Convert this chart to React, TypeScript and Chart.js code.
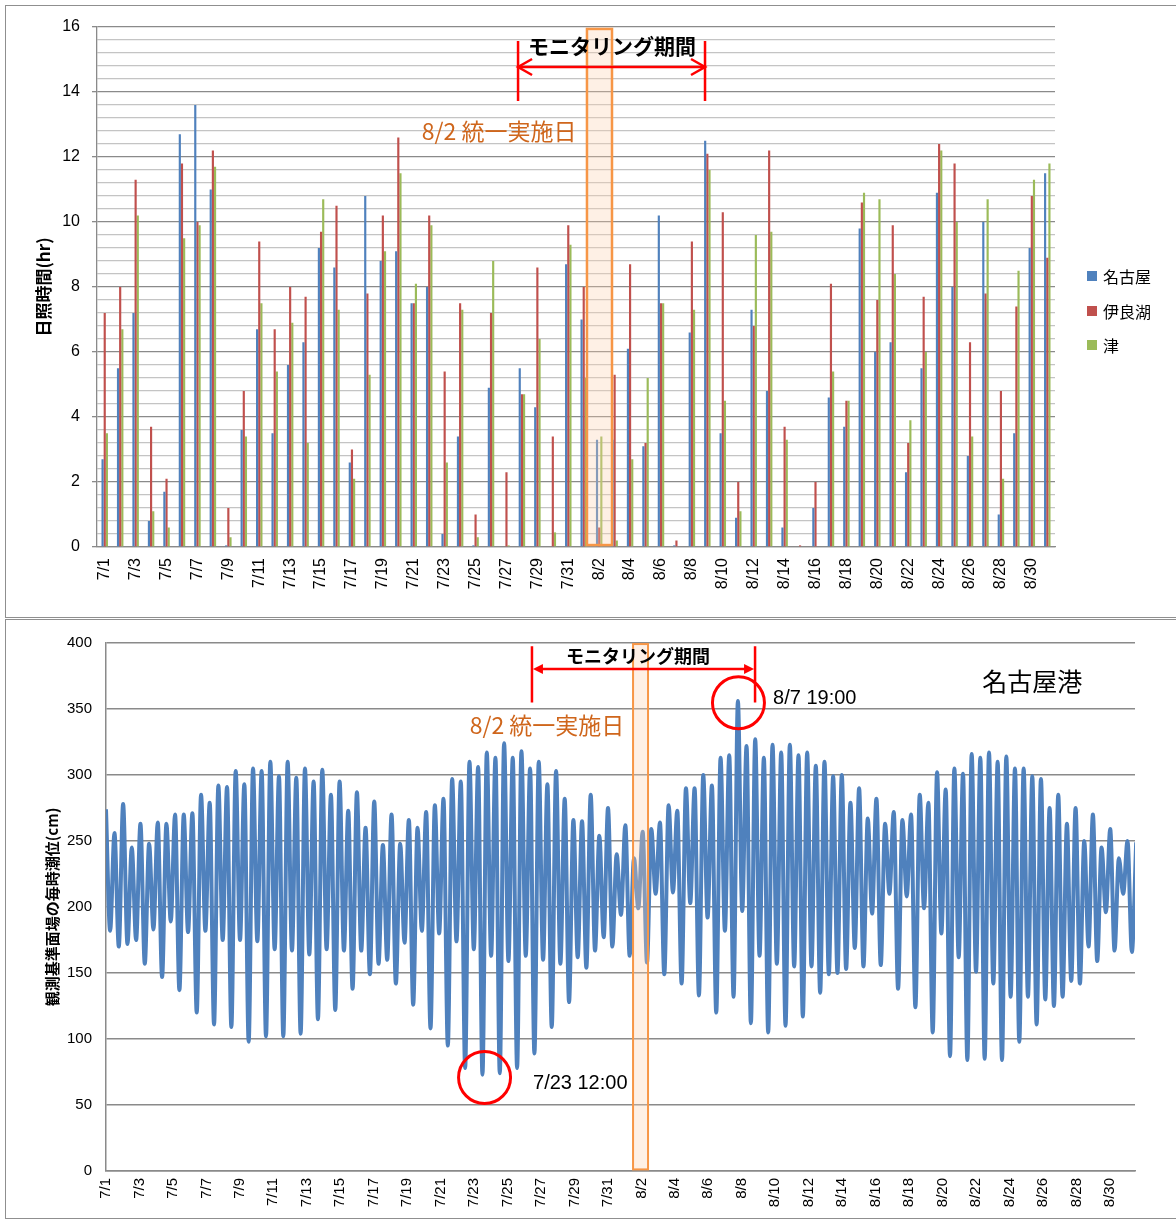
import React, { useEffect, useRef } from "react";
import { Chart, registerables } from "chart.js";

Chart.register(...registerables);

// ---------- categories ----------
const dayLabels = [
  "7/1", "7/2", "7/3", "7/4", "7/5", "7/6", "7/7", "7/8", "7/9", "7/10",
  "7/11", "7/12", "7/13", "7/14", "7/15", "7/16", "7/17", "7/18", "7/19", "7/20",
  "7/21", "7/22", "7/23", "7/24", "7/25", "7/26", "7/27", "7/28", "7/29", "7/30",
  "7/31", "8/1", "8/2", "8/3", "8/4", "8/5", "8/6", "8/7", "8/8", "8/9",
  "8/10", "8/11", "8/12", "8/13", "8/14", "8/15", "8/16", "8/17", "8/18", "8/19",
  "8/20", "8/21", "8/22", "8/23", "8/24", "8/25", "8/26", "8/27", "8/28", "8/29",
  "8/30", "8/31",
];

// ---------- sunshine hours (hr) ----------
const seriesNames = ["名古屋", "伊良湖", "津"];
const sunNagoya = [
  2.7, 5.5, 7.2, 0.8, 1.7, 12.7, 13.6, 11.0, 0.05, 3.6,
  6.7, 3.5, 5.6, 6.3, 9.2, 8.6, 2.6, 10.8, 8.8, 9.1,
  7.5, 8.0, 0.4, 3.4, 0.05, 4.9, 0, 5.5, 4.3, 0,
  8.7, 7.0, 3.3, 3.3, 6.1, 3.1, 10.2, 0.05, 6.6, 12.5,
  3.5, 0.9, 7.3, 4.8, 0.6, 0, 1.2, 4.6, 3.7, 9.8,
  6.0, 6.3, 2.3, 5.5, 10.9, 8.0, 2.8, 10.0, 1.0, 3.5,
  9.2, 11.5,
];
const sunIrago = [
  7.2, 8.0, 11.3, 3.7, 2.1, 11.8, 10.0, 12.2, 1.2, 4.8,
  9.4, 6.7, 8.0, 7.7, 9.7, 10.5, 3.0, 7.8, 10.2, 12.6,
  7.5, 10.2, 5.4, 7.5, 1.0, 7.2, 2.3, 4.7, 8.6, 3.4,
  9.9, 8.0, 0.6, 5.3, 8.7, 3.2, 7.5, 0.2, 9.4, 12.1,
  10.3, 2.0, 6.8, 12.2, 3.7, 0.05, 2.0, 8.1, 4.5, 10.6,
  7.6, 9.9, 3.2, 7.7, 12.4, 11.8, 6.3, 7.8, 4.8, 7.4,
  10.8, 8.9,
];
const sunTsu = [
  3.5, 6.7, 10.2, 1.1, 0.6, 9.5, 9.9, 11.7, 0.3, 3.4,
  7.5, 5.4, 6.9, 3.2, 10.7, 7.3, 2.1, 5.3, 9.1, 11.5,
  8.1, 9.9, 2.6, 7.3, 0.3, 8.8, 0.05, 4.7, 6.4, 0.45,
  9.3, 5.2, 3.4, 0.2, 2.7, 5.2, 7.5, 0, 7.3, 11.6,
  4.5, 1.1, 9.6, 9.7, 3.3, 0, 0, 5.4, 4.5, 10.9,
  10.7, 8.4, 3.9, 6.0, 12.2, 10.0, 3.4, 10.7, 2.1, 8.5,
  11.3, 11.8,
];
const sunMajorTicks = [0, 2, 4, 6, 8, 10, 12, 14, 16];

// ---------- hourly tide at Nagoya port (cm), successive high / low waters ----------
const tideStartValue = 274; // 7/1 0:00
const tideExtremes = [
  // 7/1 - 7/8
  182, 256, 170, 278, 172, 245, 175, 263, 157, 248, 183, 264, 147, 263, 189, 270,
  137, 270, 181, 271, 120, 285, 182, 279, 111, 292, 175, 291, 109, 303, 175, 293,
  // 7/9 - 7/16
  98, 305, 174, 303, 102, 310, 168, 299, 102, 310, 167, 298, 104, 305, 164, 295,
  115, 304, 168, 285, 122, 295, 167, 273, 138, 287, 167, 260, 149, 280, 157, 247,
  // 7/17 - 7/24
  160, 270, 142, 248, 173, 266, 126, 260, 182, 272, 108, 277, 180, 282, 95, 297,
  174, 295, 78, 310, 168, 306, 73, 317, 163, 313, 74, 324, 159, 313, 78, 318,
  // 7/25 - 8/1
  163, 305, 89, 310, 160, 293, 109, 303, 157, 282, 128, 266, 162, 265, 154, 285,
  167, 254, 177, 275, 170, 240, 194, 262, 163, 237, 199, 257, 158, 259, 210, 264,
  // 8/2 - 8/9
  149, 277, 211, 273, 142, 290, 203, 290, 133, 300, 192, 292, 120, 313, 182, 315,
  132, 356, 197, 322, 112, 327, 163, 313, 105, 323, 157, 317, 110, 323, 155, 315,
  // 8/10 - 8/17
  117, 317, 155, 307, 135, 310, 149, 299, 150, 300, 153, 279, 169, 290, 155, 267,
  195, 282, 156, 263, 210, 272, 138, 266, 208, 270, 124, 285, 199, 279, 105, 302,
  // 8/18 - 8/31
  180, 289, 87, 305, 162, 301, 84, 316, 151, 313, 85, 317, 142, 310, 84, 314,
  132, 305, 98, 305, 132, 299, 111, 297, 130, 275, 125, 285, 132, 263, 144, 275,
  142, 250, 170, 270, 159, 245, 196, 259, 167, 237, 210, 250, 166, 249,
];
const tideFirstExtremeHour = 5.94;
const tideHalfPeriodHours = 6.21; // semidiurnal high/low spacing
const tideTickDays = [0, 2, 4, 6, 8, 10, 12, 14, 16, 18, 20, 22, 24, 26, 28, 30,
  32, 34, 36, 38, 40, 42, 44, 46, 48, 50, 52, 54, 56, 58, 60];
const tideYTicks = [0, 50, 100, 150, 200, 250, 300, 350, 400];

// ---------- styles ----------
const NUM_FONT = "'Liberation Sans', 'Noto Sans CJK JP', sans-serif";
const JP_FONT = "'Noto Sans CJK JP', 'Liberation Sans', sans-serif";
const COLORS = ["#4F81BD", "#C0504D", "#9BBB59"];
const GRID_MAJOR = "#8A8A8A";
const GRID_MINOR = "#C4C4C4";
const RED = "#FF0000";
const ORANGE_LINE = "#F79646";
const ORANGE_TEXT = "#CF661C";

Chart.defaults.font.family = NUM_FONT;

const isMajorSun = (v: number) => sunMajorTicks.some((t) => Math.abs(t - v) < 1e-6);

function drawOpenHead(ctx: CanvasRenderingContext2D, x: number, y: number, dir: number) {
  ctx.beginPath();
  ctx.moveTo(x + dir * 14, y - 8);
  ctx.lineTo(x, y);
  ctx.lineTo(x + dir * 14, y + 8);
  ctx.stroke();
}
function drawFilledHead(ctx: CanvasRenderingContext2D, x: number, y: number, dir: number) {
  ctx.beginPath();
  ctx.moveTo(x, y);
  ctx.lineTo(x + dir * 10, y - 5);
  ctx.lineTo(x + dir * 10, y + 5);
  ctx.closePath();
  ctx.fill();
}

// annotation positions in data units (category index / value)
const topAnno = {
  boxFrom: 31.21, boxTo: 32.83, boxTop: 15.94, boxBottom: 0.06,
  arrowFrom: 26.75, arrowTo: 38.85, arrowY: 14.77, barTop: 15.57, barBottom: 13.72,
  periodX: 32.83, periodY: 15.42,
  dayX: 25.52, dayY: 12.8,
};
const botAnno = {
  boxFrom: 756, boxTo: 777.5, boxTop: 399.2, boxBottom: 1.2,
  arrowFrom: 611, arrowTo: 931, arrowY: 380.3, barTop: 397.6, barBottom: 355,
  periodX: 763, periodY: 390.4,
  dayX: 632.6, dayY: 338,
  peakX: 907.2, peakY: 354.7, lowX: 543, lowY: 70.8,
  peakTextX: 956.8, peakTextY: 357.7, lowTextX: 612.5, lowTextY: 66.3,
  stationX: 1256.8, stationY: 370.5,
};

const topPlugin = {
  id: "topAnnotations",
  afterDatasetsDraw(chart: any) {
    const { ctx, scales } = chart;
    const x = scales.x, y = scales.y;
    ctx.save();
    // 8/2 box
    const bx1 = x.getPixelForValue(topAnno.boxFrom);
    const bx2 = x.getPixelForValue(topAnno.boxTo);
    const by1 = y.getPixelForValue(topAnno.boxTop);
    const by2 = y.getPixelForValue(topAnno.boxBottom);
    ctx.fillStyle = "rgba(251,208,175,0.32)";
    ctx.fillRect(bx1, by1, bx2 - bx1, by2 - by1);
    ctx.strokeStyle = ORANGE_LINE;
    ctx.lineWidth = 2.5;
    ctx.strokeRect(bx1, by1, bx2 - bx1, by2 - by1);
    // monitoring period arrow
    const ax1 = x.getPixelForValue(topAnno.arrowFrom);
    const ax2 = x.getPixelForValue(topAnno.arrowTo);
    const ay = y.getPixelForValue(topAnno.arrowY);
    ctx.strokeStyle = RED;
    ctx.lineWidth = 2.5;
    ctx.beginPath();
    ctx.moveTo(ax1, ay); ctx.lineTo(ax2, ay);
    ctx.moveTo(ax1, y.getPixelForValue(topAnno.barTop)); ctx.lineTo(ax1, y.getPixelForValue(topAnno.barBottom));
    ctx.moveTo(ax2, y.getPixelForValue(topAnno.barTop)); ctx.lineTo(ax2, y.getPixelForValue(topAnno.barBottom));
    ctx.stroke();
    drawOpenHead(ctx, ax1, ay, 1);
    drawOpenHead(ctx, ax2, ay, -1);
    // texts
    ctx.textAlign = "center";
    ctx.textBaseline = "middle";
    ctx.fillStyle = "#000";
    ctx.font = `bold 21px ${JP_FONT}`;
    ctx.fillText("モニタリング期間", x.getPixelForValue(topAnno.periodX), y.getPixelForValue(topAnno.periodY));
    ctx.fillStyle = ORANGE_TEXT;
    ctx.font = `23px ${JP_FONT}`;
    ctx.fillText("8/2 統一実施日", x.getPixelForValue(topAnno.dayX), y.getPixelForValue(topAnno.dayY));
    // legend
    const lx = chart.chartArea.right + 32;
    const rows = [271, 306, 340];
    ctx.textAlign = "left";
    ctx.font = `16px ${JP_FONT}`;
    seriesNames.forEach((name, i) => {
      ctx.fillStyle = COLORS[i];
      ctx.fillRect(lx, rows[i] - 5, 10, 10);
      ctx.fillStyle = "#000";
      ctx.fillText(name, lx + 16, rows[i] + 1);
    });
    ctx.restore();
  },
};

const botPlugin = {
  id: "tideAnnotations",
  afterDatasetsDraw(chart: any) {
    const { ctx, scales } = chart;
    const x = scales.x, y = scales.y;
    ctx.save();
    const bx1 = x.getPixelForValue(botAnno.boxFrom);
    const bx2 = x.getPixelForValue(botAnno.boxTo);
    const by1 = y.getPixelForValue(botAnno.boxTop);
    const by2 = y.getPixelForValue(botAnno.boxBottom);
    ctx.fillStyle = "rgba(251,208,175,0.32)";
    ctx.fillRect(bx1, by1, bx2 - bx1, by2 - by1);
    ctx.strokeStyle = ORANGE_LINE;
    ctx.lineWidth = 2;
    ctx.strokeRect(bx1, by1, bx2 - bx1, by2 - by1);

    const ax1 = x.getPixelForValue(botAnno.arrowFrom);
    const ax2 = x.getPixelForValue(botAnno.arrowTo);
    const ay = y.getPixelForValue(botAnno.arrowY);
    ctx.strokeStyle = RED;
    ctx.fillStyle = RED;
    ctx.lineWidth = 2.5;
    ctx.beginPath();
    ctx.moveTo(ax1 + 6, ay); ctx.lineTo(ax2 - 6, ay);
    ctx.moveTo(ax1, y.getPixelForValue(botAnno.barTop)); ctx.lineTo(ax1, y.getPixelForValue(botAnno.barBottom));
    ctx.moveTo(ax2, y.getPixelForValue(botAnno.barTop)); ctx.lineTo(ax2, y.getPixelForValue(botAnno.barBottom));
    ctx.stroke();
    drawFilledHead(ctx, ax1 + 1, ay, 1);
    drawFilledHead(ctx, ax2 - 1, ay, -1);

    ctx.lineWidth = 3;
    ctx.beginPath();
    ctx.arc(x.getPixelForValue(botAnno.peakX), y.getPixelForValue(botAnno.peakY), 26, 0, Math.PI * 2);
    ctx.stroke();
    ctx.beginPath();
    ctx.arc(x.getPixelForValue(botAnno.lowX), y.getPixelForValue(botAnno.lowY), 26, 0, Math.PI * 2);
    ctx.stroke();

    ctx.textBaseline = "middle";
    ctx.textAlign = "center";
    ctx.fillStyle = "#000";
    ctx.font = `bold 18px ${JP_FONT}`;
    ctx.fillText("モニタリング期間", x.getPixelForValue(botAnno.periodX), y.getPixelForValue(botAnno.periodY));
    ctx.fillStyle = ORANGE_TEXT;
    ctx.font = `23px ${JP_FONT}`;
    ctx.fillText("8/2 統一実施日", x.getPixelForValue(botAnno.dayX), y.getPixelForValue(botAnno.dayY));
    ctx.textAlign = "left";
    ctx.fillStyle = "#000";
    ctx.font = `20px ${NUM_FONT}`;
    ctx.fillText("8/7 19:00", x.getPixelForValue(botAnno.peakTextX), y.getPixelForValue(botAnno.peakTextY));
    ctx.fillText("7/23 12:00", x.getPixelForValue(botAnno.lowTextX), y.getPixelForValue(botAnno.lowTextY));
    ctx.font = `25px ${JP_FONT}`;
    ctx.fillText("名古屋港", x.getPixelForValue(botAnno.stationX), y.getPixelForValue(botAnno.stationY));
    ctx.restore();
  },
};

export default function App() {
  const topRef = useRef<HTMLCanvasElement | null>(null);
  const botRef = useRef<HTMLCanvasElement | null>(null);

  useEffect(() => {
    const sunSets = [sunNagoya, sunIrago, sunTsu];
    const topChart = new Chart(topRef.current as HTMLCanvasElement, {
      type: "bar",
      data: {
        labels: dayLabels,
        datasets: sunSets.map((d, i) => ({
          label: seriesNames[i],
          data: d,
          backgroundColor: COLORS[i],
          categoryPercentage: 0.42,
          barPercentage: 1.0,
        })),
      },
      options: {
        animation: false,
        responsive: false,
        maintainAspectRatio: false,
        layout: { padding: { top: 22, right: 121, left: 0, bottom: 0 } },
        plugins: { legend: { display: false }, tooltip: { enabled: false } },
        scales: {
          x: {
            grid: { display: false, drawTicks: false },
            border: { display: true, color: GRID_MAJOR, width: 1.3 },
            ticks: {
              autoSkip: false,
              maxRotation: 90,
              minRotation: 90,
              padding: 11,
              color: "#000",
              font: { size: 16, family: NUM_FONT },
              callback: (_v: any, i: number) => (i % 2 === 0 ? dayLabels[i] : ""),
            },
            afterFit: (s: any) => { s.height = 70; },
          },
          y: {
            min: 0,
            max: 16,
            ticks: {
              stepSize: 0.4,
              autoSkip: false,
              padding: 12,
              color: "#000",
              font: { size: 16, family: NUM_FONT },
              callback: (v: any) => (isMajorSun(Number(v)) ? String(Math.round(Number(v))) : ""),
            },
            grid: {
              color: (c: any) => (isMajorSun(c.tick.value) ? GRID_MAJOR : GRID_MINOR),
              tickColor: (c: any) => (isMajorSun(c.tick.value) ? GRID_MAJOR : "rgba(0,0,0,0)"),
              lineWidth: 1.3,
              tickLength: 5,
            },
            border: { color: GRID_MAJOR, width: 1.3 },
            title: {
              display: true,
              text: "日照時間(hr)",
              color: "#000",
              font: { size: 17, weight: "bold", family: JP_FONT },
              padding: { top: 28, bottom: 0 },
            },
            afterFit: (s: any) => { s.width = 92; },
          },
        },
      } as any,
      plugins: [topPlugin],
    });

    const tidePoints = [{ x: 0, y: tideStartValue }].concat(
      tideExtremes.map((v, i) => ({ x: tideFirstExtremeHour + i * tideHalfPeriodHours, y: v }))
    );
    const botChart = new Chart(botRef.current as HTMLCanvasElement, {
      type: "line",
      data: {
        datasets: [
          {
            label: "名古屋港",
            data: tidePoints,
            borderColor: "#4F81BD",
            borderWidth: 4,
            pointRadius: 0,
            cubicInterpolationMode: "monotone",
            fill: false,
          },
        ],
      },
      options: {
        animation: false,
        responsive: false,
        maintainAspectRatio: false,
        layout: { padding: { top: 20, right: 41, left: 0, bottom: 0 } },
        plugins: { legend: { display: false }, tooltip: { enabled: false } },
        scales: {
          x: {
            type: "linear",
            min: 0,
            max: 1476,
            afterBuildTicks: (s: any) => {
              s.ticks = tideTickDays.map((d) => ({ value: d * 24 }));
            },
            ticks: {
              autoSkip: false,
              maxRotation: 90,
              minRotation: 90,
              padding: 7,
              color: "#000",
              font: { size: 15, family: NUM_FONT },
              callback: (v: any) => dayLabels[Math.round(Number(v) / 24)],
            },
            grid: { display: false, drawTicks: false },
            border: { display: true, color: GRID_MAJOR, width: 1.5 },
            afterFit: (s: any) => { s.height = 45; },
          },
          y: {
            min: 0,
            max: 400,
            afterBuildTicks: (s: any) => {
              s.ticks = tideYTicks.map((v) => ({ value: v }));
            },
            ticks: {
              padding: 14,
              color: "#000",
              font: { size: 15, family: NUM_FONT },
            },
            grid: { color: GRID_MAJOR, lineWidth: 1.5, drawTicks: false },
            border: { color: GRID_MAJOR, width: 1.5 },
            title: {
              display: true,
              text: "観測基準面場の毎時潮位(cm)",
              color: "#000",
              font: { size: 15, weight: "bold", family: JP_FONT },
              padding: { top: 38, bottom: 0 },
            },
            afterFit: (s: any) => { s.width = 101; },
          },
        },
      } as any,
      plugins: [botPlugin],
    });

    return () => {
      topChart.destroy();
      botChart.destroy();
    };
  }, []);

  const frame: React.CSSProperties = {
    position: "absolute",
    border: "1px solid #8F8F8F",
    boxSizing: "border-box",
    pointerEvents: "none",
  };

  return (
    <div style={{ position: "absolute", left: 0, top: 0, width: 1176, height: 1220, background: "#fff", overflow: "hidden" }}>
      <canvas ref={topRef} width={1171} height={612} style={{ position: "absolute", left: 5, top: 5 }} />
      <div style={{ ...frame, left: 5, top: 5, width: 1175, height: 613 }} />
      <canvas ref={botRef} width={1171} height={596} style={{ position: "absolute", left: 5, top: 620 }} />
      <div style={{ ...frame, left: 5, top: 619, width: 1175, height: 600 }} />
    </div>
  );
}
